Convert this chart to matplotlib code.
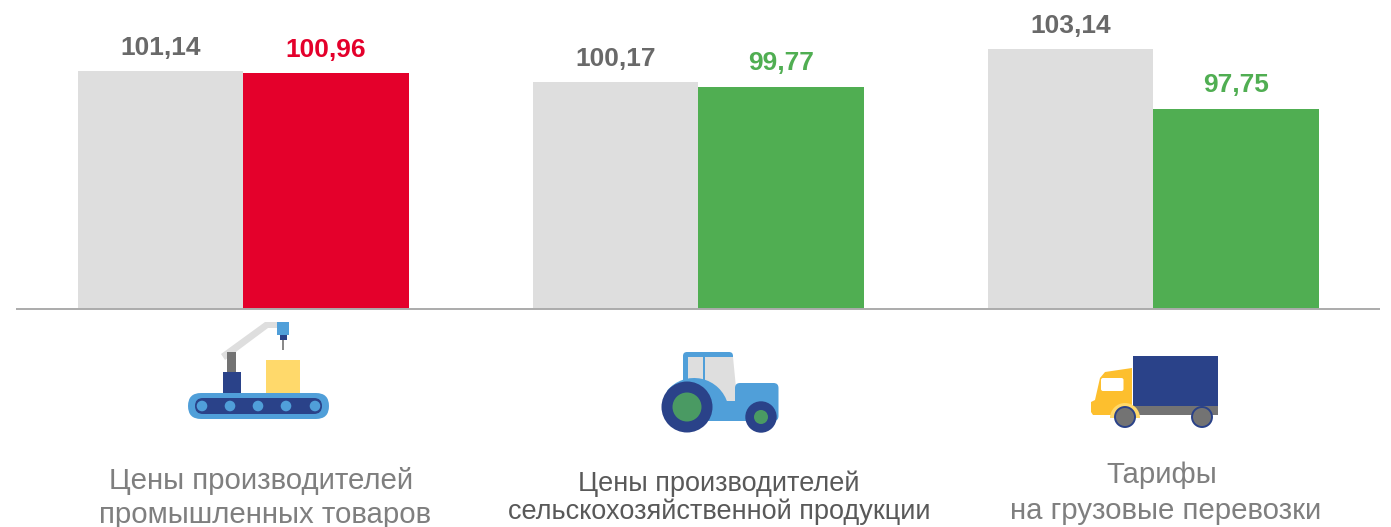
#!/usr/bin/env python3
"""Price indices by sector: previous vs current, with sector icons"""

import matplotlib
matplotlib.use('Agg')
import matplotlib.pyplot as plt
from matplotlib.patches import Circle, FancyBboxPatch, Polygon, Rectangle, Wedge

plt.rcParams['font.family'] = ['Liberation Sans', 'DejaVu Sans']

W, H = 1391, 527

previous = [101.14, 100.17, 103.14]
current = [100.96, 99.77, 97.75]
previous_labels = ['101,14', '100,17', '103,14']
current_labels = ['100,96', '99,77', '97,75']
current_colors = ['#e4002b', '#50ae52', '#50ae52']

GREY = '#dedede'
BLUE = '#509fd9'
NAVY = '#2a4289'
YELLOW = '#ffd96b'
AMBER = '#fdbf2e'
DARK = '#737373'
GREEN = '#4a9a63'
CAPTION = '#7f7f7f'
CAPTION_DARK = '#595959'

fig = plt.figure(figsize=(W / 100, H / 100), dpi=100)

# Bars: axes spans the figure width, bottom edge sits on the baseline
baseline_px = 309
ax = fig.add_axes([0, 1 - baseline_px / H, 1, baseline_px / H])
px_per_unit = 11.13
y0 = 79.78
ax.set_ylim(y0, y0 + baseline_px / px_per_unit)
ax.set_xlim(-243 / 455, (W - 243) / 455)
ax.axis('off')

bar_w = 165.5 / 455
for i in range(len(previous)):
    ax.bar(i - bar_w / 2, previous[i] - y0, bar_w, bottom=y0, color=GREY)
    ax.bar(i + bar_w / 2, current[i] - y0, bar_w, bottom=y0, color=current_colors[i])
    ax.annotate(previous_labels[i], (i - bar_w / 2, previous[i]), xytext=(0, 11.5),
                textcoords='offset pixels', ha='center', va='bottom', fontsize=19,
                fontweight='bold', color='#696969')
    ax.annotate(current_labels[i], (i + bar_w / 2, current[i]), xytext=(0, 11.5),
                textcoords='offset pixels', ha='center', va='bottom', fontsize=19,
                fontweight='bold', color=current_colors[i])

# Overlay in pixel coordinates for baseline, icons and captions
ov = fig.add_axes([0, 0, 1, 1], facecolor='none')
ov.set_xlim(0, W)
ov.set_ylim(H, 0)
ov.axis('off')

ov.plot([16, 1380], [baseline_px, baseline_px], color='#ababab', lw=1.4, solid_capstyle='butt')

# Conveyor icon
ov.add_patch(Polygon([(221, 354), (225, 360), (268, 328), (277, 328), (277, 322), (265, 322)], color='#dedede', lw=0))
ov.add_patch(Rectangle((227, 352), 9, 20, color=DARK, lw=0))
ov.add_patch(Rectangle((223, 372), 18, 21, color=NAVY, lw=0))
ov.add_patch(Rectangle((277, 322), 12, 13, color=BLUE, lw=0))
ov.add_patch(Rectangle((280, 335), 7, 5, color=NAVY, lw=0))
ov.add_patch(Rectangle((282, 340), 2, 10, color='#8a8a8a', lw=0))
ov.add_patch(Rectangle((266, 360), 34, 33, color=YELLOW, lw=0))
ov.add_patch(FancyBboxPatch((188, 393), 141, 26, boxstyle='round,pad=0,rounding_size=13', fc=BLUE, lw=0, zorder=1))
ov.add_patch(FancyBboxPatch((195, 398), 127, 16, boxstyle='round,pad=0,rounding_size=8', fc=NAVY, lw=0, zorder=2))
for cx in (202, 230, 258, 286, 315):
    ov.add_patch(Circle((cx, 406), 5.3, color=BLUE, lw=0, zorder=3))

# Tractor icon
ov.add_patch(FancyBboxPatch((683, 352), 50, 40, boxstyle='round,pad=0,rounding_size=4', color=BLUE, lw=0))
ov.add_patch(Polygon([(688, 357), (703, 357), (703, 385), (688, 385)], color=GREY, lw=0))
ov.add_patch(Polygon([(705, 357), (733, 357), (737, 398), (735, 401), (720, 401), (705, 382)], color=GREY, lw=0))
ov.add_patch(FancyBboxPatch((735, 383), 43.5, 38, boxstyle='round,pad=0,rounding_size=5', color=BLUE, lw=0))
ov.add_patch(Polygon([(705, 395), (720, 401), (740, 401), (740, 421), (700, 421)], color=BLUE, lw=0))
ov.add_patch(Wedge((694, 413), 35, 220, 345, color=BLUE, lw=0))
ov.add_patch(Circle((687, 407), 25.5, color=NAVY, lw=0))
ov.add_patch(Circle((687, 407), 14.5, color=GREEN, lw=0))
ov.add_patch(Circle((761, 417), 15.7, color=NAVY, lw=0))
ov.add_patch(Circle((761, 417), 7, color=GREEN, lw=0))

# Truck icon
ov.add_patch(Rectangle((1133, 356), 85, 50, color=NAVY, lw=0))
ov.add_patch(Rectangle((1133, 406), 85, 9, color=DARK, lw=0))
ov.add_patch(Polygon([(1132, 368), (1132, 415), (1093, 415), (1091, 412), (1091, 402), (1095, 400),
                      (1100, 378), (1105, 372)], color=AMBER, lw=0))
ov.add_patch(FancyBboxPatch((1101, 378), 22.5, 13, boxstyle='round,pad=0,rounding_size=2', color='white', lw=0))
ov.add_patch(Wedge((1125, 418), 15, 180, 360, color=YELLOW, lw=0))
ov.add_patch(Circle((1125, 417), 10, fc=DARK, ec=NAVY, lw=1.4))
ov.add_patch(Circle((1202, 417), 10, fc=DARK, ec=NAVY, lw=1.4))

# Captions
ov.text(261.5, 481, 'Цены производителей', ha='center', va='center', fontsize=21.2, color=CAPTION)
ov.text(265.5, 515, 'промышленных товаров', ha='center', va='center', fontsize=21.2, color=CAPTION)
ov.text(718.5, 484, 'Цены производителей', ha='center', va='center', fontsize=19.5, color=CAPTION_DARK)
ov.text(719, 512, 'сельскохозяйственной продукции', ha='center', va='center', fontsize=19.5, color=CAPTION_DARK)
ov.text(1161.5, 475, 'Тарифы', ha='center', va='center', fontsize=21.2, color=CAPTION)
ov.text(1165.5, 511, 'на грузовые перевозки', ha='center', va='center', fontsize=21.2, color=CAPTION)

fig.savefig('out.png', dpi=100, facecolor='white')
